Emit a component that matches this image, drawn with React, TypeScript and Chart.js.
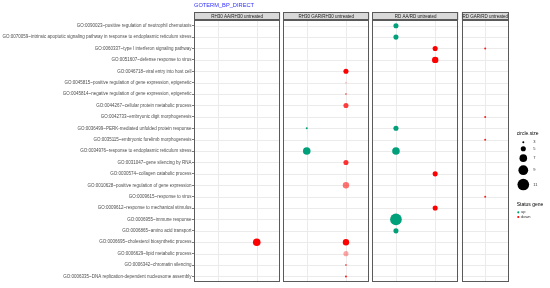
import React, { useEffect, useRef } from "react";
import { Chart, registerables } from "chart.js";

Chart.register(...registerables);

const chartTitle = "GOTERM_BP_DIRECT";

const terms = [
  "GO:0090023~positive regulation of neutrophil chemotaxis",
  "GO:0070059~intrinsic apoptotic signaling pathway in response to endoplasmic reticulum stress",
  "GO:0060337~type I interferon signaling pathway",
  "GO:0051607~defense response to virus",
  "GO:0046718~viral entry into host cell",
  "GO:0045815~positive regulation of gene expression, epigenetic",
  "GO:0045814~negative regulation of gene expression, epigenetic",
  "GO:0044267~cellular protein metabolic process",
  "GO:0042733~embryonic digit morphogenesis",
  "GO:0036499~PERK-mediated unfolded protein response",
  "GO:0035115~embryonic forelimb morphogenesis",
  "GO:0034976~response to endoplasmic reticulum stress",
  "GO:0031047~gene silencing by RNA",
  "GO:0030574~collagen catabolic process",
  "GO:0010628~positive regulation of gene expression",
  "GO:0009615~response to virus",
  "GO:0009612~response to mechanical stimulus",
  "GO:0006955~immune response",
  "GO:0006865~amino acid transport",
  "GO:0006695~cholesterol biosynthetic process",
  "GO:0006629~lipid metabolic process",
  "GO:0006342~chromatin silencing",
  "GO:0006335~DNA replication-dependent nucleosome assembly",
];

const panelNames = [
  "RH30 AA/RH30 untreated",
  "RH30 GAR/RH30 untreated",
  "RD AA/RD untreated",
  "RD GAR/RD untreated",
];
const panelStatuses = [
  ["up", "down"],
  ["up", "down"],
  ["up", "down"],
  ["down"],
];

const statusNames = ["up", "down"];
const statusColors = ["#00A07A", "#FF0000"];

const pointPanel = [
  0,
  1, 1, 1, 1, 1, 1, 1, 1, 1, 1, 1, 1,
  2, 2, 2, 2, 2, 2, 2, 2, 2, 2,
  3, 3, 3, 3,
];
const pointTerm = [
  "GO:0006695",
  "GO:0046718", "GO:0045815", "GO:0045814", "GO:0044267", "GO:0036499", "GO:0034976",
  "GO:0031047", "GO:0010628", "GO:0006695", "GO:0006629", "GO:0006342", "GO:0006335",
  "GO:0090023", "GO:0070059", "GO:0060337", "GO:0051607", "GO:0036499", "GO:0034976",
  "GO:0030574", "GO:0009612", "GO:0006955", "GO:0006865",
  "GO:0060337", "GO:0042733", "GO:0035115", "GO:0009615",
];
const pointStatus = [
  "down",
  "down", "down", "down", "down", "up", "up",
  "down", "down", "down", "down", "down", "down",
  "up", "up", "down", "down", "up", "up",
  "down", "down", "up", "up",
  "down", "down", "down", "down",
];
const pointSize = [
  7,
  5, 3, 3, 5, 3, 7,
  5, 6, 6, 5, 3, 3,
  5, 5, 5, 6, 5, 7,
  5, 5, 11, 5,
  3, 3, 3, 3,
];
const pointAlpha = [
  1,
  1, 0.2, 0.5, 0.75, 1, 1,
  0.8, 0.55, 1, 0.35, 0.6, 0.9,
  1, 1, 1, 1, 1, 1,
  1, 1, 1, 1,
  0.9, 0.9, 0.9, 0.9,
];

const legendSizes = [3, 5, 7, 9, 11];
const sizeLegendTitle = "circle.size";
const statusLegendTitle = "Status gene";

// layout constants
const FONT = "'Liberation Sans', Arial, sans-serif";
const EXP = 0.6;
const GAP = 0.075;

const panelStart: number[] = [];
const panelEnd: number[] = [];
let cursor = 0;
panelStatuses.forEach((cats) => {
  panelStart.push(cursor);
  const w = cats.length - 1 + 2 * EXP;
  panelEnd.push(cursor + w);
  cursor += w + GAP;
});
const xMax = cursor - GAP;
const catX = (p: number, s: string) => panelStart[p] + EXP + panelStatuses[p].indexOf(s);

const diam = (s: number) => 2 + 6.12 * (Math.sqrt(s) - Math.sqrt(3));

function rgba(hex: string, a: number) {
  const n = parseInt(hex.slice(1), 16);
  return `rgba(${(n >> 16) & 255},${(n >> 8) & 255},${n & 255},${a})`;
}

const facetPlugin = {
  id: "facets",
  beforeDatasetsDraw(chart: any) {
    const { ctx, chartArea: a, scales } = chart;
    const x = scales.x;
    const y = scales.y;
    ctx.save();
    panelStatuses.forEach((cats, p) => {
      const l = x.getPixelForValue(panelStart[p]);
      const r = x.getPixelForValue(panelEnd[p]);
      ctx.fillStyle = "#ffffff";
      ctx.fillRect(l, a.top, r - l, a.bottom - a.top);
      ctx.strokeStyle = "#EBEBEB";
      ctx.lineWidth = 1;
      terms.forEach((_, i) => {
        const yy = Math.round(y.getPixelForValue(i)) + 0.5;
        ctx.beginPath();
        ctx.moveTo(l, yy);
        ctx.lineTo(r, yy);
        ctx.stroke();
      });
      cats.forEach((c) => {
        const xx = Math.round(x.getPixelForValue(catX(p, c))) + 0.5;
        ctx.beginPath();
        ctx.moveTo(xx, a.top);
        ctx.lineTo(xx, a.bottom);
        ctx.stroke();
      });
    });
    ctx.restore();
  },
  afterDatasetsDraw(chart: any) {
    const { ctx, chartArea: a, scales } = chart;
    const x = scales.x;
    ctx.save();
    const stripTop = a.top - 8;
    panelStatuses.forEach((_, p) => {
      const l = x.getPixelForValue(panelStart[p]);
      const r = x.getPixelForValue(panelEnd[p]);
      ctx.strokeStyle = "#5a5a5a";
      ctx.lineWidth = 1;
      ctx.strokeRect(Math.round(l) + 0.5, Math.round(a.top) + 0.5, Math.round(r - l) - 1, Math.round(a.bottom - a.top) - 1);
      // strip
      ctx.fillStyle = "#D9D9D9";
      ctx.fillRect(l, stripTop, r - l, a.top - stripTop);
      ctx.strokeRect(Math.round(l) + 0.5, Math.round(stripTop) + 0.5, Math.round(r - l) - 1, Math.round(a.top - stripTop) - 1);
      ctx.fillStyle = "#1A1A1A";
      ctx.font = `4.5px ${FONT}`;
      ctx.textAlign = "center";
      ctx.textBaseline = "middle";
      ctx.fillText(panelNames[p], (l + r) / 2, (stripTop + a.top) / 2 + 0.3);
    });
    ctx.restore();
  },
  afterDraw(chart: any) {
    const { ctx, chartArea: a } = chart;
    ctx.save();
    // title
    ctx.fillStyle = "#3030ff";
    ctx.font = `5.7px ${FONT}`;
    ctx.textAlign = "left";
    ctx.textBaseline = "middle";
    ctx.fillText(chartTitle, a.left, 5.3);

    // size legend
    const lx = a.right + 8;
    const keyX = lx + 6.6;
    ctx.fillStyle = "#000";
    ctx.font = `5px ${FONT}`;
    ctx.fillText(sizeLegendTitle, lx, 133.7);
    let cy = 142.3;
    legendSizes.forEach((s, i) => {
      const d = diam(s);
      if (i > 0) {
        const hPrev = 1.1 * diam(legendSizes[i - 1]) + 2.5;
        const h = 1.1 * d + 2.5;
        cy += (hPrev + h) / 2;
      }
      ctx.fillStyle = "#000";
      ctx.beginPath();
      ctx.arc(keyX, cy, d / 2, 0, Math.PI * 2);
      ctx.fill();
      ctx.fillStyle = "#333";
      ctx.font = `4px ${FONT}`;
      ctx.fillText(String(s), lx + 16.5, cy);
    });

    // status legend
    ctx.fillStyle = "#000";
    ctx.font = `5px ${FONT}`;
    ctx.fillText(statusLegendTitle, lx, 205);
    statusNames.forEach((s, i) => {
      const yy = 212.3 + i * 4.7;
      ctx.fillStyle = statusColors[i];
      ctx.beginPath();
      ctx.arc(lx + 1.6, yy, 1.1, 0, Math.PI * 2);
      ctx.fill();
      ctx.fillStyle = "#333";
      ctx.font = `4px ${FONT}`;
      ctx.fillText(s, lx + 4.3, yy);
    });
    ctx.restore();
  },
};

export default function App() {
  const ref = useRef<HTMLCanvasElement | null>(null);
  useEffect(() => {
    if (!ref.current) return;
    const datasets = statusNames.map((s, si) => {
      const pts: any[] = [];
      pointPanel.forEach((p, k) => {
        if (pointStatus[k] !== s) return;
        const label = terms.find((t) => t.startsWith(pointTerm[k] + "~")) as string;
        pts.push({ x: catX(p, s), y: label, size: pointSize[k], alpha: pointAlpha[k] });
      });
      return {
        label: s,
        data: pts,
        pointRadius: (c: any) => (c.raw ? diam(c.raw.size) / 2 : 2),
        pointBackgroundColor: (c: any) => rgba(statusColors[si], c.raw ? c.raw.alpha : 1),
        pointBorderWidth: 0,
        pointHoverRadius: (c: any) => (c.raw ? diam(c.raw.size) / 2 : 2),
      };
    });
    const chart = new Chart(ref.current, {
      type: "scatter",
      data: { datasets },
      plugins: [facetPlugin],
      options: {
        animation: false,
        responsive: false,
        events: [],
        layout: { padding: { top: 20, right: 41.3, bottom: 4, left: 0 } },
        plugins: { legend: { display: false }, tooltip: { enabled: false }, title: { display: false } },
        scales: {
          x: { type: "linear", min: 0, max: xMax, display: false },
          y: {
            type: "category",
            labels: terms,
            offset: true,
            afterFit: (sc: any) => {
              sc.width = 194;
            },
            grid: { drawOnChartArea: false, drawTicks: true, tickLength: 2, color: "#444", lineWidth: 0.7 },
            border: { display: false },
            ticks: { autoSkip: false, padding: 0.5, color: "#4D4D4D", font: { size: 4.5, family: FONT } },
          },
        },
      } as any,
    });
    return () => chart.destroy();
  }, []);
  return (
    <div style={{ position: "absolute", left: 0, top: 0, width: 550, height: 288, background: "#fff" }}>
      <canvas ref={ref} width={550} height={288} />
    </div>
  );
}
